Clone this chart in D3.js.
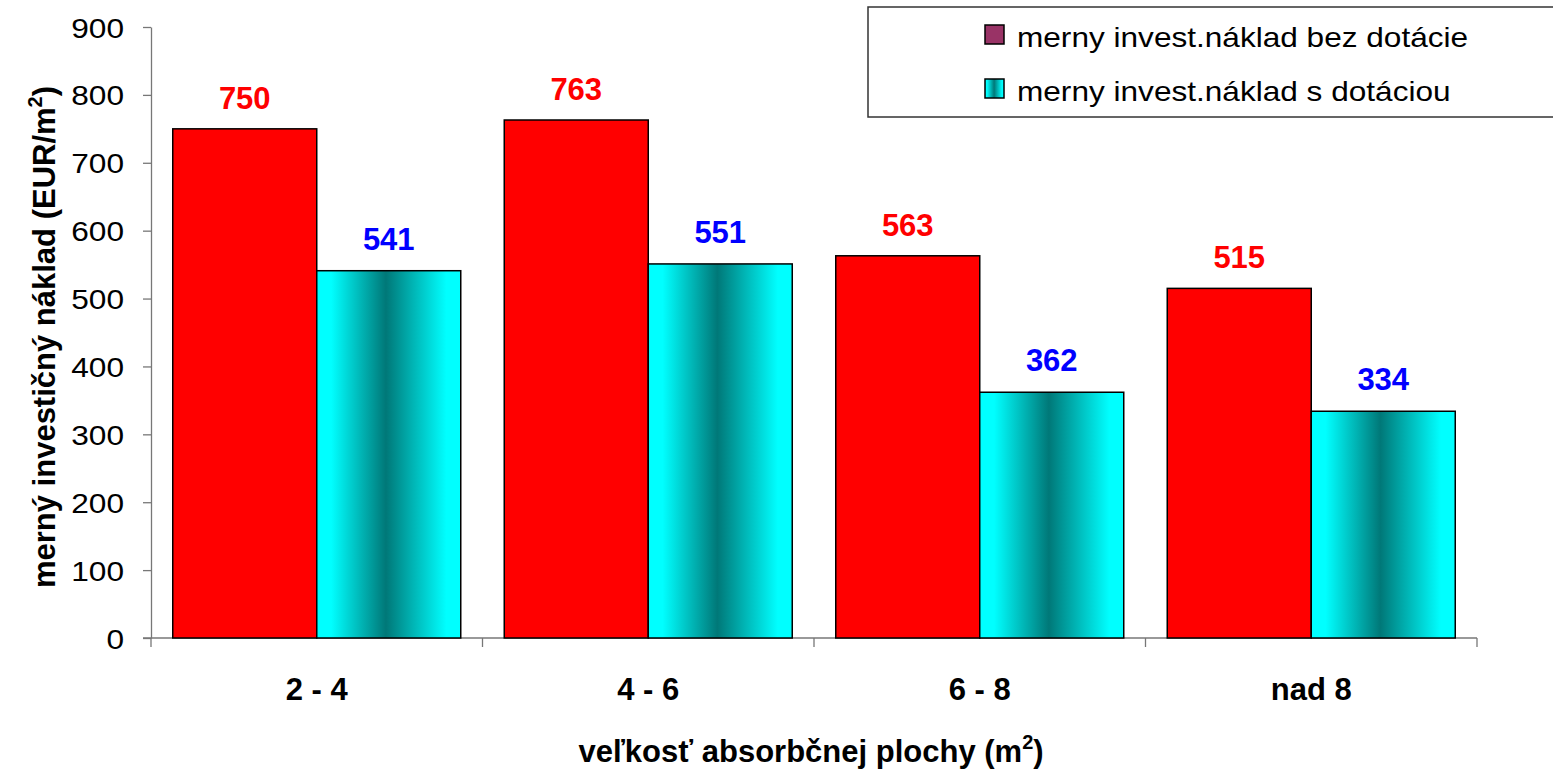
<!DOCTYPE html>
<html><head><meta charset="utf-8">
<script src="https://cdn.jsdelivr.net/npm/d3@7"></script>
<style>body{margin:0;background:#fff}svg{display:block;font-family:"Liberation Sans",Arial,sans-serif}</style>
</head><body>
<svg id="c" width="1553" height="774"></svg>
<script>
const categories = ["2 - 4", "4 - 6", "6 - 8", "nad 8"];
const seriesNames = ["merny invest.náklad bez dotácie", "merny invest.náklad s dotáciou"];
const bezDotacie = [750, 763, 563, 515];
const sDotaciou = [541, 551, 362, 334];
const yTicks = [0, 100, 200, 300, 400, 500, 600, 700, 800, 900];

const svg = d3.select("#c");
const x0 = 151, x1 = 1477, yTop = 27, yBot = 638;
const x = d3.scaleBand().domain(categories).range([x0, x1]).paddingInner(0).paddingOuter(0);
const y = d3.scaleLinear().domain([0, 900]).range([yBot, yTop]);
const barW = 144;

function stretch(sel, sx) {
  sel.each(function() {
    const t = d3.select(this);
    const tx = +(t.attr("x") || 0), ty = +(t.attr("y") || 0);
    t.attr("x", null).attr("y", null)
     .attr("transform", `translate(${tx},${ty}) scale(${sx},1)`);
  });
}

const defs = svg.append("defs");
const g = defs.append("linearGradient").attr("id", "cyanGrad").attr("x1", "0").attr("x2", "1").attr("y1", "0").attr("y2", "0");
g.append("stop").attr("offset", "0%").attr("stop-color", "#00ffff");
g.append("stop").attr("offset", "10%").attr("stop-color", "#00ffff");
g.append("stop").attr("offset", "48%").attr("stop-color", "#007878");
g.append("stop").attr("offset", "90%").attr("stop-color", "#00ffff");
g.append("stop").attr("offset", "100%").attr("stop-color", "#00ffff");

// axes
const yAxis = d3.axisLeft(y).tickValues(yTicks).tickSize(8).tickSizeOuter(0).tickPadding(19);
const ya = svg.append("g").attr("transform", `translate(${x0},0)`).call(yAxis);
ya.selectAll("text").attr("font-size", 28).attr("fill", "#000").attr("dy", "0.36em");
stretch(ya.selectAll("text"), 1.13);
ya.selectAll("line,path").attr("stroke", "#777").attr("stroke-width", 1.3);

const xa = svg.append("g").attr("transform", `translate(0,${yBot})`);
xa.append("line").attr("x1", x0 - 8).attr("x2", x1).attr("y1", 0).attr("y2", 0).attr("stroke", "#777").attr("stroke-width", 1.3);
const bounds = categories.map(c => x(c)).concat([x1]);
xa.selectAll(".tk").data(bounds).join("line").attr("x1", d => d).attr("x2", d => d).attr("y1", 0).attr("y2", 9).attr("stroke", "#777").attr("stroke-width", 1.3);
xa.selectAll(".cl").data(categories).join("text")
  .attr("x", d => x(d) + x.bandwidth() / 2).attr("y", 62)
  .attr("text-anchor", "middle").attr("font-size", 31).attr("font-weight", "bold").text(d => d);

// bars
const gap = (x.bandwidth() - 2 * barW) / 2;
const bars = svg.append("g");
bars.selectAll(".r").data(categories).join("rect")
  .attr("x", d => x(d) + gap).attr("y", (d, i) => y(bezDotacie[i]))
  .attr("width", barW).attr("height", (d, i) => yBot - y(bezDotacie[i]))
  .attr("fill", "#ff0000").attr("stroke", "#000").attr("stroke-width", 1.5);
bars.selectAll(".c").data(categories).join("rect")
  .attr("x", d => x(d) + gap + barW).attr("y", (d, i) => y(sDotaciou[i]))
  .attr("width", barW).attr("height", (d, i) => yBot - y(sDotaciou[i]))
  .attr("fill", "url(#cyanGrad)").attr("stroke", "#000").attr("stroke-width", 1.5);

// labels
svg.append("g").selectAll("text").data(categories).join("text")
  .attr("x", d => x(d) + gap + barW / 2).attr("y", (d, i) => y(bezDotacie[i]) - 20)
  .attr("text-anchor", "middle").attr("font-size", 31).attr("font-weight", "bold").attr("fill", "#ff0000")
  .text((d, i) => bezDotacie[i]);
svg.append("g").selectAll("text").data(categories).join("text")
  .attr("x", d => x(d) + gap + barW * 1.5).attr("y", (d, i) => y(sDotaciou[i]) - 21)
  .attr("text-anchor", "middle").attr("font-size", 31).attr("font-weight", "bold").attr("fill", "#0000ff")
  .text((d, i) => sDotaciou[i]);

// axis titles
const yt = svg.append("text").attr("transform", "translate(55,337) rotate(-90)")
  .attr("text-anchor", "middle").attr("font-size", 31).attr("font-weight", "bold");
yt.append("tspan").text("merný investičný náklad (EUR/m");
yt.append("tspan").attr("font-size", 20).attr("dy", -13).text("2");
yt.append("tspan").attr("dy", 13).text(")");

const xt = svg.append("text").attr("x", 811).attr("y", 762)
  .attr("text-anchor", "middle").attr("font-size", 31).attr("font-weight", "bold");
xt.append("tspan").text("veľkosť absorbčnej plochy (m");
xt.append("tspan").attr("font-size", 20).attr("dy", -13).text("2");
xt.append("tspan").attr("dy", 13).text(")");

// legend
const lg = svg.append("g");
lg.append("rect").attr("x", 868).attr("y", 7).attr("width", 700).attr("height", 110)
  .attr("fill", "#fff").attr("stroke", "#333").attr("stroke-width", 1.5);
const lItems = [{name: seriesNames[0], fill: "#993366", y: 25, base: 47}, {name: seriesNames[1], fill: "url(#cyanGrad)", y: 79, base: 101}];
lItems.forEach(it => {
  lg.append("rect").attr("x", 985).attr("y", it.y).attr("width", 19).attr("height", 19)
    .attr("fill", it.fill).attr("stroke", "#000").attr("stroke-width", 1.5);
  const t = lg.append("text").attr("x", 1017).attr("y", it.base).attr("font-size", 27).text(it.name);
  stretch(t, 1.17);
});
</script>
</body></html>
